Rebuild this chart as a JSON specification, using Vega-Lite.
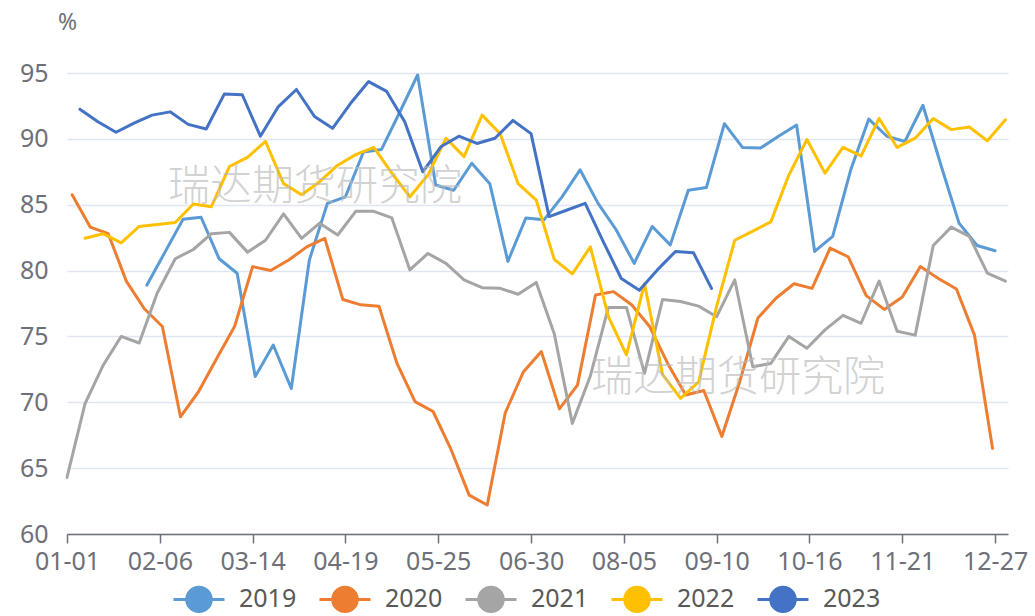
{
"$schema": "https://vega.github.io/schema/vega-lite/v6.json",
"width": 941, "height": 461,
"autosize": {"type": "none"},
"padding": {"left": 67, "top": 73, "right": 27, "bottom": 82},
"background": "white",
"config": {"view": {"stroke": null}, "font": "Noto Sans"},
"datasets": {"rates": [
{"year":"2019","day":31,"value":78.9},{"year":"2019","day":38,"value":81.4},{"year":"2019","day":45,"value":83.9},{"year":"2019","day":52,"value":84.05},{"year":"2019","day":59,"value":80.9},{"year":"2019","day":66,"value":79.8},{"year":"2019","day":73,"value":71.95},{"year":"2019","day":80,"value":74.35},{"year":"2019","day":87,"value":71.05},{"year":"2019","day":94,"value":80.8},{"year":"2019","day":101,"value":85.1},{"year":"2019","day":108,"value":85.6},{"year":"2019","day":115,"value":89.0},{"year":"2019","day":122,"value":89.2},{"year":"2019","day":129,"value":92.0},{"year":"2019","day":136,"value":94.85},{"year":"2019","day":143,"value":86.5},{"year":"2019","day":150,"value":86.1},{"year":"2019","day":157,"value":88.15},{"year":"2019","day":164,"value":86.6},{"year":"2019","day":171,"value":80.7},{"year":"2019","day":178,"value":84.0},{"year":"2019","day":185,"value":83.85},{"year":"2019","day":192,"value":85.6},{"year":"2019","day":199,"value":87.65},{"year":"2019","day":206,"value":85.1},{"year":"2019","day":213,"value":83.1},{"year":"2019","day":220,"value":80.55},{"year":"2019","day":227,"value":83.35},{"year":"2019","day":234,"value":81.95},{"year":"2019","day":241,"value":86.1},{"year":"2019","day":248,"value":86.3},{"year":"2019","day":255,"value":91.15},{"year":"2019","day":262,"value":89.35},{"year":"2019","day":269,"value":89.3},{"year":"2019","day":276,"value":90.2},{"year":"2019","day":283,"value":91.05},{"year":"2019","day":290,"value":81.45},{"year":"2019","day":297,"value":82.6},{"year":"2019","day":304,"value":87.65},{"year":"2019","day":311,"value":91.5},{"year":"2019","day":318,"value":90.2},{"year":"2019","day":325,"value":89.8},{"year":"2019","day":332,"value":92.55},{"year":"2019","day":339,"value":88.0},{"year":"2019","day":346,"value":83.6},{"year":"2019","day":353,"value":81.9},{"year":"2019","day":360,"value":81.5},
{"year":"2020","day":2,"value":85.75},{"year":"2020","day":9,"value":83.3},{"year":"2020","day":16,"value":82.8},{"year":"2020","day":23,"value":79.2},{"year":"2020","day":30,"value":77.1},{"year":"2020","day":37,"value":75.75},{"year":"2020","day":44,"value":68.9},{"year":"2020","day":51,"value":70.8},{"year":"2020","day":58,"value":73.3},{"year":"2020","day":65,"value":75.75},{"year":"2020","day":72,"value":80.3},{"year":"2020","day":79,"value":80.0},{"year":"2020","day":86,"value":80.8},{"year":"2020","day":93,"value":81.8},{"year":"2020","day":100,"value":82.45},{"year":"2020","day":107,"value":77.8},{"year":"2020","day":114,"value":77.4},{"year":"2020","day":121,"value":77.3},{"year":"2020","day":128,"value":72.95},{"year":"2020","day":135,"value":70.05},{"year":"2020","day":142,"value":69.3},{"year":"2020","day":149,"value":66.4},{"year":"2020","day":156,"value":62.95},{"year":"2020","day":163,"value":62.2},{"year":"2020","day":170,"value":69.2},{"year":"2020","day":177,"value":72.3},{"year":"2020","day":184,"value":73.85},{"year":"2020","day":191,"value":69.5},{"year":"2020","day":198,"value":71.3},{"year":"2020","day":205,"value":78.15},{"year":"2020","day":212,"value":78.4},{"year":"2020","day":219,"value":77.4},{"year":"2020","day":226,"value":75.75},{"year":"2020","day":233,"value":72.95},{"year":"2020","day":240,"value":70.55},{"year":"2020","day":247,"value":70.9},{"year":"2020","day":254,"value":67.4},{"year":"2020","day":261,"value":71.6},{"year":"2020","day":268,"value":76.4},{"year":"2020","day":275,"value":77.9},{"year":"2020","day":282,"value":79.0},{"year":"2020","day":289,"value":78.65},{"year":"2020","day":296,"value":81.7},{"year":"2020","day":303,"value":81.05},{"year":"2020","day":310,"value":78.1},{"year":"2020","day":317,"value":77.05},{"year":"2020","day":324,"value":78.0},{"year":"2020","day":331,"value":80.3},{"year":"2020","day":338,"value":79.4},{"year":"2020","day":345,"value":78.6},{"year":"2020","day":352,"value":75.1},{"year":"2020","day":359,"value":66.5},
{"year":"2021","day":0,"value":64.3},{"year":"2021","day":7,"value":69.9},{"year":"2021","day":14,"value":72.8},{"year":"2021","day":21,"value":75.0},{"year":"2021","day":28,"value":74.5},{"year":"2021","day":35,"value":78.3},{"year":"2021","day":42,"value":80.9},{"year":"2021","day":49,"value":81.6},{"year":"2021","day":56,"value":82.8},{"year":"2021","day":63,"value":82.9},{"year":"2021","day":70,"value":81.4},{"year":"2021","day":77,"value":82.3},{"year":"2021","day":84,"value":84.3},{"year":"2021","day":91,"value":82.45},{"year":"2021","day":98,"value":83.6},{"year":"2021","day":105,"value":82.7},{"year":"2021","day":112,"value":84.5},{"year":"2021","day":119,"value":84.5},{"year":"2021","day":126,"value":84.0},{"year":"2021","day":133,"value":80.05},{"year":"2021","day":140,"value":81.3},{"year":"2021","day":147,"value":80.55},{"year":"2021","day":154,"value":79.3},{"year":"2021","day":161,"value":78.7},{"year":"2021","day":168,"value":78.65},{"year":"2021","day":175,"value":78.2},{"year":"2021","day":182,"value":79.1},{"year":"2021","day":189,"value":75.2},{"year":"2021","day":196,"value":68.4},{"year":"2021","day":203,"value":72.0},{"year":"2021","day":210,"value":77.2},{"year":"2021","day":217,"value":77.2},{"year":"2021","day":224,"value":72.2},{"year":"2021","day":231,"value":77.8},{"year":"2021","day":238,"value":77.65},{"year":"2021","day":245,"value":77.3},{"year":"2021","day":252,"value":76.5},{"year":"2021","day":259,"value":79.3},{"year":"2021","day":266,"value":72.7},{"year":"2021","day":273,"value":72.95},{"year":"2021","day":280,"value":75.0},{"year":"2021","day":287,"value":74.1},{"year":"2021","day":294,"value":75.5},{"year":"2021","day":301,"value":76.6},{"year":"2021","day":308,"value":76.0},{"year":"2021","day":315,"value":79.2},{"year":"2021","day":322,"value":75.4},{"year":"2021","day":329,"value":75.1},{"year":"2021","day":336,"value":81.9},{"year":"2021","day":343,"value":83.3},{"year":"2021","day":350,"value":82.6},{"year":"2021","day":357,"value":79.8},{"year":"2021","day":364,"value":79.2},
{"year":"2022","day":7,"value":82.45},{"year":"2022","day":14,"value":82.8},{"year":"2022","day":21,"value":82.1},{"year":"2022","day":28,"value":83.35},{"year":"2022","day":35,"value":83.5},{"year":"2022","day":42,"value":83.65},{"year":"2022","day":49,"value":85.05},{"year":"2022","day":56,"value":84.85},{"year":"2022","day":63,"value":87.9},{"year":"2022","day":70,"value":88.6},{"year":"2022","day":77,"value":89.8},{"year":"2022","day":84,"value":86.6},{"year":"2022","day":91,"value":85.75},{"year":"2022","day":98,"value":86.75},{"year":"2022","day":105,"value":88.0},{"year":"2022","day":112,"value":88.8},{"year":"2022","day":119,"value":89.35},{"year":"2022","day":126,"value":87.4},{"year":"2022","day":133,"value":85.6},{"year":"2022","day":140,"value":87.25},{"year":"2022","day":147,"value":90.05},{"year":"2022","day":154,"value":88.65},{"year":"2022","day":161,"value":91.8},{"year":"2022","day":168,"value":90.4},{"year":"2022","day":175,"value":86.6},{"year":"2022","day":182,"value":85.35},{"year":"2022","day":189,"value":80.85},{"year":"2022","day":196,"value":79.75},{"year":"2022","day":203,"value":81.8},{"year":"2022","day":210,"value":76.5},{"year":"2022","day":217,"value":73.6},{"year":"2022","day":224,"value":79.0},{"year":"2022","day":231,"value":72.1},{"year":"2022","day":238,"value":70.3},{"year":"2022","day":245,"value":71.55},{"year":"2022","day":252,"value":77.3},{"year":"2022","day":259,"value":82.3},{"year":"2022","day":266,"value":83.0},{"year":"2022","day":273,"value":83.7},{"year":"2022","day":280,"value":87.25},{"year":"2022","day":287,"value":89.95},{"year":"2022","day":294,"value":87.4},{"year":"2022","day":301,"value":89.35},{"year":"2022","day":308,"value":88.7},{"year":"2022","day":315,"value":91.55},{"year":"2022","day":322,"value":89.35},{"year":"2022","day":329,"value":90.05},{"year":"2022","day":336,"value":91.55},{"year":"2022","day":343,"value":90.7},{"year":"2022","day":350,"value":90.9},{"year":"2022","day":357,"value":89.85},{"year":"2022","day":364,"value":91.45},
{"year":"2023","day":5,"value":92.25},{"year":"2023","day":12,"value":91.3},{"year":"2023","day":19,"value":90.5},{"year":"2023","day":26,"value":91.2},{"year":"2023","day":33,"value":91.8},{"year":"2023","day":40,"value":92.05},{"year":"2023","day":47,"value":91.1},{"year":"2023","day":54,"value":90.75},{"year":"2023","day":61,"value":93.4},{"year":"2023","day":68,"value":93.35},{"year":"2023","day":75,"value":90.2},{"year":"2023","day":82,"value":92.45},{"year":"2023","day":89,"value":93.75},{"year":"2023","day":96,"value":91.7},{"year":"2023","day":103,"value":90.8},{"year":"2023","day":110,"value":92.7},{"year":"2023","day":117,"value":94.35},{"year":"2023","day":124,"value":93.6},{"year":"2023","day":131,"value":91.3},{"year":"2023","day":138,"value":87.5},{"year":"2023","day":145,"value":89.4},{"year":"2023","day":152,"value":90.2},{"year":"2023","day":159,"value":89.65},{"year":"2023","day":166,"value":90.05},{"year":"2023","day":173,"value":91.4},{"year":"2023","day":180,"value":90.4},{"year":"2023","day":187,"value":84.1},{"year":"2023","day":194,"value":84.6},{"year":"2023","day":201,"value":85.1},{"year":"2023","day":208,"value":82.2},{"year":"2023","day":215,"value":79.4},{"year":"2023","day":222,"value":78.5},{"year":"2023","day":229,"value":80.05},{"year":"2023","day":236,"value":81.45},{"year":"2023","day":243,"value":81.35},{"year":"2023","day":250,"value":78.65}
]},
"layer": [
{"data": {"name": "rates"},
 "mark": {"type": "line", "strokeWidth": 3, "strokeJoin": "round", "strokeCap": "round"},
 "encoding": {
  "x": {"field": "day", "type": "quantitative",
    "scale": {"domain": [0, 365], "nice": false, "zero": false},
    "axis": {"title": null, "values": [0,36,72,108,144,180,216,252,288,324,360],
      "labelExpr": "timeFormat(datetime(2001, 0, 1 + datum.value), '%m-%d')",
      "grid": false, "domainColor": "#6E7079", "domainWidth": 1.5, "tickColor": "#6E7079", "tickWidth": 1.5, "tickSize": 9,
      "labelPadding": 6, "labelFontSize": 25, "labelColor": "#6E7079", "labelOverlap": false, "labelFlush": false}},
  "y": {"field": "value", "type": "quantitative",
    "scale": {"domain": [60, 95], "nice": false, "zero": false},
    "axis": {"title": "%", "titleAngle": 0, "titleX": 0, "titleY": -51, "titleAlign": "center", "titleBaseline": "middle",
      "titleFontSize": 23, "titleFontWeight": "normal", "titleColor": "#6E7079",
      "values": [60,65,70,75,80,85,90,95], "grid": true, "gridColor": "#E0E6F1", "gridWidth": 1.5,
      "domain": false, "ticks": false, "labelPadding": 19, "labelFontSize": 25, "labelColor": "#6E7079"}},
  "color": {"field": "year", "type": "nominal",
    "scale": {"domain": ["2019","2020","2021","2022","2023"], "range": ["#5B9BD5","#ED7D31","#A5A5A5","#FFC000","#4472C4"]},
    "legend": {"orient": "none", "legendX": 105, "legendY": 499, "direction": "horizontal", "columns": 5, "title": null,
      "symbolType": "M-1,0H1M0.48,0A0.48,0.48,0,1,1,-0.48,0A0.48,0.48,0,1,1,0.48,0Z",
      "symbolSize": 2601, "symbolStrokeWidth": 3, "symbolOpacity": 1,
      "labelFontSize": 25, "labelColor": "#595959", "labelOffset": 13, "columnPadding": 16, "padding": 0,
      "encode": {"symbols": {"update": {"fill": {"scale": "color", "field": "value"}, "fillOpacity": {"value": 1}}}}}}
 }},
{"data": {"values": [{}]},
 "mark": {"type": "text", "text": "瑞达期货研究院", "font": "Noto Sans CJK SC", "fontWeight": 300, "fontSize": 42, "fill": "#bbbbbb", "opacity": 0.65, "align": "center", "baseline": "middle"},
 "encoding": {"x": {"datum": 96.2}, "y": {"datum": 86.35}}},
{"data": {"values": [{}]},
 "mark": {"type": "text", "text": "瑞达期货研究院", "font": "Noto Sans CJK SC", "fontWeight": 300, "fontSize": 42, "fill": "#bbbbbb", "opacity": 0.65, "align": "center", "baseline": "middle"},
 "encoding": {"x": {"datum": 260.3}, "y": {"datum": 71.85}}}
]
}
